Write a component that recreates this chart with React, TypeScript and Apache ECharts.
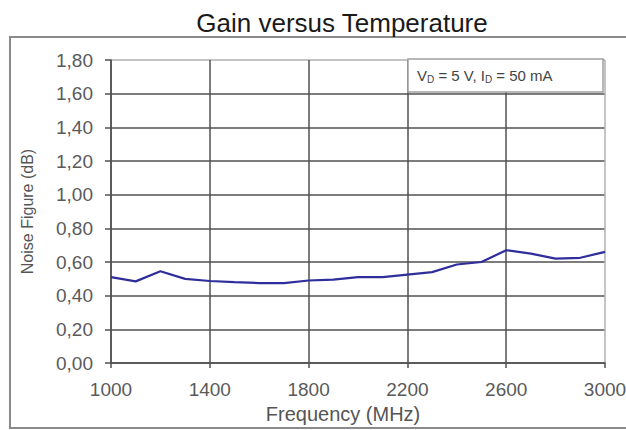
import React, { useEffect, useRef } from "react";
import * as echarts from "echarts";

const titleText = "Gain versus Temperature";
const xAxisName = "Frequency (MHz)";
const yAxisName = "Noise Figure (dB)";
const frequencies = [1000, 1100, 1200, 1300, 1400, 1500, 1600, 1700, 1800, 1900, 2000, 2100, 2200, 2300, 2400, 2500, 2600, 2700, 2800, 2900, 3000];
const noiseFigure = [0.51, 0.485, 0.545, 0.5, 0.487, 0.48, 0.475, 0.475, 0.49, 0.495, 0.51, 0.51, 0.525, 0.54, 0.585, 0.6, 0.67, 0.65, 0.62, 0.625, 0.66];
const annotation = "{n|V}{s|D}{n| = 5 V, I}{s|D}{n| = 50 mA}";

const FONT = "'Liberation Sans', Arial, sans-serif";

export default function App() {
  const ref = useRef<HTMLDivElement>(null);
  useEffect(() => {
    if (!ref.current) return;
    const chart = echarts.init(ref.current, undefined, { renderer: "svg" });
    const dark = "#505050";
    const light = "#b0b0b0";
    chart.setOption({
      animation: false,
      backgroundColor: "#ffffff",
      grid: { left: 111, right: 21, top: 60, bottom: 67, outerBoundsMode: "none", containLabel: false },
      xAxis: {
        type: "value",
        min: 1000,
        max: 3000,
        interval: 400,
        name: xAxisName,
        nameLocation: "middle",
        nameGap: 40,
        nameTextStyle: { fontFamily: FONT, fontSize: 20, color: "#555", padding: [0, 30, 0, 0] },
        axisLine: { show: true, lineStyle: { color: dark, width: 1.5 } },
        axisTick: { show: true, length: 5, lineStyle: { color: dark, width: 1.5 } },
        axisLabel: {
          fontFamily: FONT,
          fontSize: 19,
          color: "#5a5a5a",
          margin: 17,
          formatter: (v: number) => String(v),
        },
        splitLine: { show: true, lineStyle: { color: [dark, dark, dark, dark, dark, light], width: 1.5 } },
      },
      yAxis: {
        type: "value",
        min: 0,
        max: 1.8,
        interval: 0.2,
        name: yAxisName,
        nameLocation: "middle",
        nameGap: 76,
        nameRotate: 90,
        nameTextStyle: { fontFamily: FONT, fontSize: 16, color: "#555" },
        axisLine: { show: true, lineStyle: { color: dark, width: 1.5 } },
        axisTick: { show: true, length: 6, lineStyle: { color: dark, width: 1.5 } },
        axisLabel: {
          fontFamily: FONT,
          fontSize: 19,
          color: "#5a5a5a",
          margin: 18,
          formatter: (v: number) => v.toFixed(2).replace(".", ","),
        },
        splitLine: {
          show: true,
          lineStyle: { color: [dark, dark, dark, dark, dark, dark, dark, dark, dark, light], width: 1.5 },
        },
      },
      graphic: [
        {
          type: "polyline",
          z: -10,
          shape: { points: [[640, 37], [10, 37], [10, 428], [640, 428]] },
          style: { fill: "none", stroke: "#8a8a8a", lineWidth: 2 },
        },
        {
          type: "text",
          x: 342,
          y: 10,
          style: {
            text: titleText,
            fontFamily: FONT,
            fontSize: 26,
            fill: "#1a1a1a",
            align: "center",
            verticalAlign: "top",
          },
        },
        {
          type: "rect",
          z: 100,
          shape: { x: 408, y: 59, width: 195, height: 33 },
          style: { fill: "#ffffff", stroke: "#a0a0a0", lineWidth: 1.5 },
        },
        {
          type: "text",
          z: 101,
          x: 417,
          y: 66,
          style: {
            text: annotation,
            fill: "#333",
            rich: {
              n: { fontFamily: FONT, fontSize: 15, lineHeight: 18, fill: "#444", verticalAlign: "middle" },
              s: { fontFamily: FONT, fontSize: 10, lineHeight: 18, fill: "#444", verticalAlign: "bottom" },
            },
          },
        },
      ],
      series: [
        {
          type: "line",
          data: frequencies.map((f, i) => [f, noiseFigure[i]]),
          showSymbol: false,
          symbol: "none",
          lineStyle: { color: "#2e2e9c", width: 2.2 },
          z: 5,
        },
      ],
    });
    return () => chart.dispose();
  }, []);
  return <div ref={ref} style={{ width: 626, height: 430, position: "absolute", left: 0, top: 0 }} />;
}
